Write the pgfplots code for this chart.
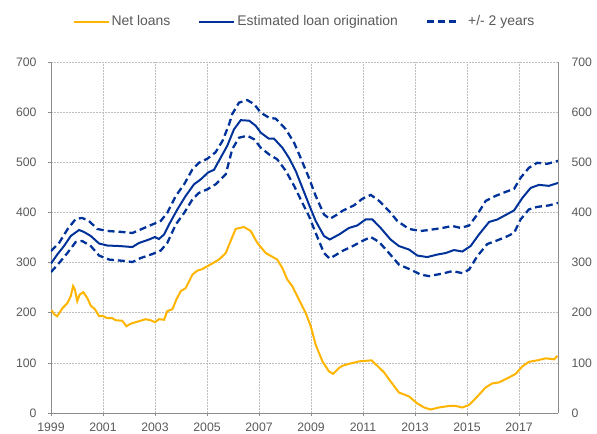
\documentclass[border=0pt]{standalone}
\usepackage{pgfplots}
\pgfplotsset{compat=1.18}
\usepackage{fontspec}
\setmainfont{Liberation Sans}
\definecolor{ecbyellow}{RGB}{255,180,0}
\definecolor{ecbblue}{RGB}{0,50,153}
\definecolor{txtgray}{RGB}{89,89,89}
\definecolor{axgray}{RGB}{140,140,140}
\definecolor{gridgray}{RGB}{190,190,190}
\begin{document}
\begin{tikzpicture}
\useasboundingbox (-51bp,-21bp) rectangle (507bp+39bp,351bp+62bp);
\pgfplotsset{
  common/.style={
    scale only axis, width=507bp, height=351bp,
    xmin=1999, xmax=2018.5, ymin=0, ymax=700,
    ytick={0,100,...,700},
    /pgf/number format/assume math mode=true,
    /pgf/number format/1000 sep={},
    tick label style={font=\fontsize{12.3}{14}\selectfont, text=txtgray},
    axis line style={axgray, line width=0.9pt},
  }
}
\begin{axis}[common,
  axis x line*=bottom, axis y line*=left,
  xtick={1999,2001,...,2017},
  xtick align=outside, ytick align=outside,
  major tick length=3bp,
  tick style={axgray, line width=0.6pt},
  grid=major,
  major grid style={gridgray, dash pattern=on 2pt off 1pt, line width=0.55pt},
  yticklabel style={xshift=-8bp},
  xticklabel style={yshift=-3bp},
  legend columns=3,
  legend style={at={(0.5,1.115)}, anchor=center, draw=none, fill=none,
    font=\fontsize{14}{16}\selectfont, text=txtgray,
    /tikz/every even column/.append style={column sep=26bp}},
  legend image code/.code={\draw[#1] (0bp,0bp) -- (35bp,0bp);},
]
\addplot[ecbyellow, line width=2pt] coordinates {
(1999.0,205)(1999.05,203)(1999.12,197)(1999.24,193)(1999.44,209)(1999.63,219)(1999.76,233)(1999.85,253)(1999.92,246)(2000.01,223)(2000.10,236)(2000.24,241)(2000.40,229)(2000.53,214)(2000.69,207)(2000.85,193)(2000.97,194)(2001.17,189)(2001.36,189)(2001.49,185)(2001.74,184)(2001.90,173)(2002.06,178)(2002.38,183)(2002.64,187)(2002.83,185)(2003.0,181)(2003.15,187)(2003.35,186)(2003.47,203)(2003.67,207)(2003.82,226)(2003.99,243)(2004.18,249)(2004.44,276)(2004.63,284)(2004.82,287)(2004.95,291)(2005.2,298)(2005.46,306)(2005.72,319)(2005.91,343)(2006.1,367)(2006.42,371)(2006.68,363)(2006.94,339)(2007.26,319)(2007.70,306)(2007.90,289)(2008.09,266)(2008.28,253)(2008.54,226)(2008.8,199)(2008.99,173)(2009.18,136)(2009.44,103)(2009.69,83)(2009.85,78)(2010.08,90)(2010.2,94)(2010.46,98)(2010.85,103)(2011.33,105)(2011.55,94)(2011.81,81)(2012.06,63)(2012.38,41)(2012.77,33)(2013.09,19)(2013.35,11)(2013.6,7)(2013.92,11)(2014.31,14)(2014.57,14)(2014.82,11)(2015.08,16)(2015.40,33)(2015.72,51)(2015.97,59)(2016.23,61)(2016.62,71)(2016.87,78)(2017.13,93)(2017.38,102)(2017.70,105)(2018.03,109)(2018.35,107)(2018.48,114)
};
\addlegendentry{Net loans}
\addplot[ecbblue, line width=2pt] coordinates {
(1999.0,298)(1999.24,316)(1999.5,333)(1999.76,353)(2000.08,365)(2000.27,361)(2000.53,353)(2000.85,338)(2001.17,334)(2001.62,333)(2002.13,331)(2002.38,339)(2002.77,346)(2003.0,351)(2003.15,347)(2003.35,356)(2003.54,376)(2003.86,406)(2004.18,433)(2004.5,456)(2004.76,466)(2005.05,480)(2005.27,485)(2005.46,503)(2005.78,533)(2006.04,566)(2006.3,584)(2006.62,583)(2006.87,573)(2007.07,559)(2007.38,547)(2007.58,547)(2007.90,529)(2008.15,509)(2008.41,483)(2008.67,449)(2008.92,416)(2009.18,383)(2009.5,353)(2009.72,346)(2010.08,356)(2010.46,369)(2010.78,374)(2011.1,386)(2011.36,386)(2011.68,369)(2012.06,346)(2012.38,333)(2012.77,326)(2013.09,314)(2013.47,311)(2013.86,316)(2014.18,319)(2014.5,325)(2014.82,322)(2015.14,333)(2015.46,356)(2015.85,381)(2016.17,386)(2016.49,395)(2016.81,404)(2017.13,429)(2017.45,449)(2017.77,455)(2018.15,453)(2018.51,459)
};
\addlegendentry{Estimated loan origination}
\addplot[ecbblue, line width=2.3pt, dash pattern=on 7pt off 4pt,
  legend image code/.code={\draw[ecbblue, line width=2.3pt, dash pattern=on 7pt off 4pt] (0bp,0bp) -- (32bp,0bp); \path (38bp,0bp);}] coordinates {
(1999.0,323)(1999.31,339)(1999.63,366)(1999.95,387)(2000.2,389)(2000.46,383)(2000.78,367)(2001.17,363)(2001.74,361)(2002.13,359)(2002.45,366)(2002.9,376)(2003.22,383)(2003.47,399)(2003.8,433)(2004.12,456)(2004.44,486)(2004.69,499)(2005.01,507)(2005.33,520)(2005.6,543)(2005.85,576)(2005.97,596)(2006.23,619)(2006.55,624)(2006.81,616)(2007.07,599)(2007.38,589)(2007.64,587)(2008.03,566)(2008.35,539)(2008.6,509)(2008.92,469)(2009.18,433)(2009.5,396)(2009.72,387)(2010.08,398)(2010.2,403)(2010.65,414)(2010.97,427)(2011.3,435)(2011.62,423)(2012.0,403)(2012.32,383)(2012.77,367)(2013.22,363)(2013.54,365)(2014.05,369)(2014.44,373)(2014.76,369)(2015.08,374)(2015.4,396)(2015.72,423)(2016.1,433)(2016.49,441)(2016.81,447)(2017.06,469)(2017.38,489)(2017.7,499)(2018.09,497)(2018.51,503)
};
\addlegendentry{+/- 2 years}
\addplot[ecbblue, line width=2.3pt, dash pattern=on 7pt off 4pt, forget plot] coordinates {
(1999.0,281)(1999.31,299)(1999.63,319)(1999.95,341)(2000.2,343)(2000.53,333)(2000.85,314)(2001.23,306)(2001.87,303)(2002.13,301)(2002.45,309)(2002.9,317)(2003.22,324)(2003.47,339)(2003.8,376)(2004.12,399)(2004.44,426)(2004.69,439)(2005.01,446)(2005.33,456)(2005.72,476)(2005.97,526)(2006.23,549)(2006.55,553)(2006.81,546)(2007.07,529)(2007.38,516)(2007.7,506)(2008.03,483)(2008.35,453)(2008.67,419)(2008.92,393)(2009.18,359)(2009.5,319)(2009.72,308)(2010.08,319)(2010.2,323)(2010.65,334)(2010.97,343)(2011.3,351)(2011.62,341)(2012.0,319)(2012.38,296)(2012.83,286)(2013.22,276)(2013.54,273)(2014.05,278)(2014.44,283)(2014.82,279)(2015.08,286)(2015.4,313)(2015.78,337)(2016.1,343)(2016.49,351)(2016.81,359)(2017.06,386)(2017.38,406)(2017.7,411)(2018.15,414)(2018.51,419)
};
\end{axis}
\begin{axis}[common,
  axis x line=none, axis y line*=right,
  ytick align=outside, major tick length=0bp,
  yticklabel style={xshift=10bp},
]
\addplot[draw=none] coordinates {(2000,0)};
\end{axis}
\end{tikzpicture}
\end{document}
